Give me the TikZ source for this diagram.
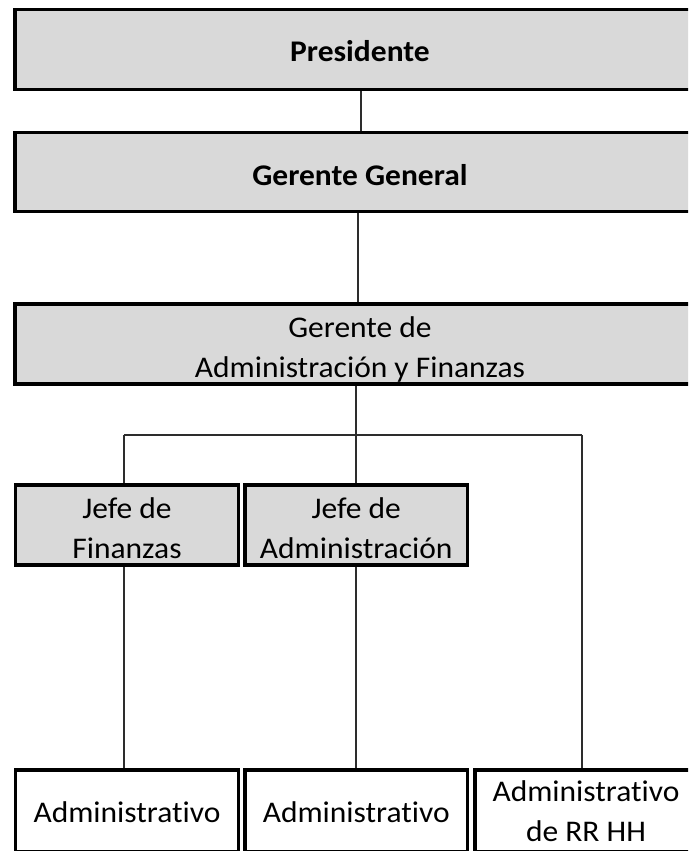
\documentclass[tikz,border=0pt]{standalone}
\usepackage{fontspec}
\setmainfont{Carlito}[Ligatures=NoCommon,FakeStretch=1.05]
\definecolor{boxgray}{RGB}{217,217,217}
\definecolor{linegray}{RGB}{45,45,45}
\newcommand{\lowtext}[2]{\raisebox{-#1}[\height][\depth]{#2}}
\newcommand{\twolines}[3]{\lowtext{#1}{\begin{tabular}{@{}c@{}}#2\\#3\end{tabular}}}
\begin{document}
\begin{tikzpicture}[x=1pt,y=-1pt,
  orgbox/.style={draw=black,line width=3.5pt,rectangle,inner sep=0pt,
    font=\fontsize{30}{40}\selectfont},
  grayfill/.style={orgbox,fill=boxgray},
  whitefill/.style={orgbox,fill=white},
  conn/.style={draw=linegray,line width=1.4pt}]
\useasboundingbox (0,0) rectangle (688,851);
\clip (0,0) rectangle (688,851);
\fill[white] (0,0) rectangle (688,851);

% top boxes
\node[grayfill,minimum width=690pt,minimum height=79.5pt] (pres) at (360,49.5) {\lowtext{2pt}{\bfseries Presidente}};
\node[grayfill,minimum width=690pt,minimum height=79pt] (gg) at (360,172) {\lowtext{3pt}{\bfseries Gerente General}};
\node[grayfill,minimum width=690pt,minimum height=79.5pt] (ayf) at (360,344) {\twolines{5pt}{Gerente de}{Administración y Finanzas}};

% jefes
\node[grayfill,minimum width=223pt,minimum height=80pt] (jf) at (127,525) {\twolines{5.5pt}{Jefe de}{Finanzas}};
\node[grayfill,minimum width=222.5pt,minimum height=80pt] (ja) at (356.25,525) {\twolines{5.5pt}{Jefe de}{Administración}};

% bottom boxes
\node[whitefill,minimum width=223pt,minimum height=82pt] (b1) at (127,811) {\lowtext{1pt}{Administrativo}};
\node[whitefill,minimum width=222.5pt,minimum height=82pt] (b2) at (356.25,811) {\lowtext{1pt}{Administrativo}};
\node[whitefill,minimum width=222pt,minimum height=82pt] (b3) at (586,811) {\twolines{2pt}{Administrativo}{de RR HH}};

% connectors
\coordinate (busL) at (124,435);
\coordinate (busM) at (356,435);
\coordinate (busR) at (582,435);
\coordinate (topc) at (361,0);
\coordinate (midc) at (358,0);

\draw[conn] (pres.south -| topc) -- (gg.north -| topc);
\draw[conn] (gg.south -| midc) -- (ayf.north -| midc);
\draw[conn] (ayf.south -| busM) -- (ja.north -| busM);
\draw[conn] (busL) -- (busR);
\draw[conn] (busL) -- (jf.north -| busL);
\draw[conn] (busR) -- (b3.north -| busR);
\draw[conn] (jf.south -| busL) -- (b1.north -| busL);
\draw[conn] (ja.south -| busM) -- (b2.north -| busM);
\end{tikzpicture}
\end{document}
